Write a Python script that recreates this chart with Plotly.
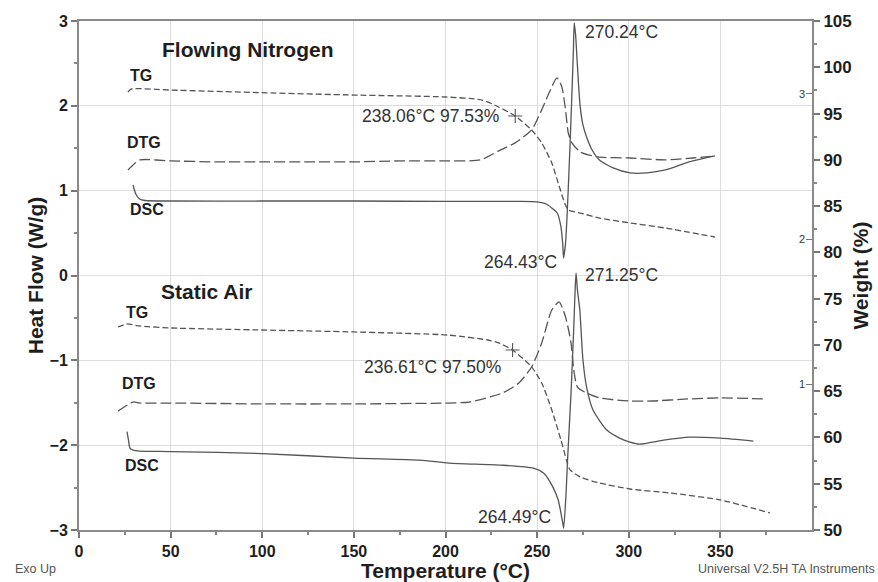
import plotly.graph_objects as go

# ---------------- data ----------------
# Flowing nitrogen
n2_dsc_t = [29.5, 31, 33, 36, 50, 100, 150, 200, 240, 250, 255, 258, 261, 263, 264, 264.43,
            265.5, 266.5, 268, 269, 269.8, 270.24, 271, 271.8, 273.4, 275, 277, 280, 284, 291.5,
            300.7, 310, 320, 333, 347]
n2_dsc_v = [1.067, 0.96, 0.902, 0.884, 0.878, 0.878, 0.878, 0.873, 0.873, 0.867, 0.843, 0.796,
            0.737, 0.572, 0.36, 0.206, 0.383, 0.772, 1.563, 2.152, 2.659, 2.978, 2.836, 2.541,
            2.011, 1.775, 1.633, 1.48, 1.362, 1.268, 1.209, 1.209, 1.244, 1.338, 1.409]

n2_tg_t = [26.7, 28.4, 50, 100, 150, 200, 220, 229, 238, 247, 252.5, 258, 262, 265, 267,
           273.5, 284, 301, 320, 347]
n2_tg_w = [97.33, 97.65, 97.54, 97.25, 97.0, 96.79, 96.46, 95.71, 94.74, 93.22, 91.82, 89.66,
           87.17, 85.33, 84.58, 84.25, 83.71, 83.17, 82.63, 81.66]

n2_dtg_t = [26.7, 29.5, 33.3, 50, 75, 100, 125, 150, 175, 200, 219, 229, 238, 247, 252.5,
            256.5, 260.8, 263.5, 265.5, 267, 269, 273.5, 283, 301, 320, 335, 347]
n2_dtg_d = [2.476, 2.510, 2.545, 2.538, 2.531, 2.531, 2.531, 2.531, 2.538, 2.538, 2.545, 2.607,
            2.662, 2.751, 2.889, 3.005, 3.109, 3.047, 2.889, 2.730, 2.662, 2.600, 2.565, 2.558,
            2.545, 2.558, 2.572]

# Static air
air_dsc_t = [26.2, 27, 27.8, 29.5, 33, 50, 100, 150, 186, 202, 230, 248, 253.5, 258.6, 261.5,
             264, 264.49, 265.8, 266.6, 268.5, 270, 270.8, 271.25, 272, 273.3, 275, 277, 280.5,
             288, 295, 300.7, 306, 319, 333, 350, 368]
air_dsc_v = [-1.84, -1.94, -2.034, -2.058, -2.07, -2.075, -2.099, -2.152, -2.176, -2.211, -2.235,
             -2.27, -2.329, -2.494, -2.647, -2.918, -2.978, -2.565, -2.176, -1.386, -0.607,
             -0.136, 0.03, -0.17, -0.407, -0.996, -1.315, -1.586, -1.822, -1.917, -1.964,
             -1.988, -1.941, -1.905, -1.917, -1.952]

air_tg_t = [21.3, 26, 33, 50, 100, 150, 201, 223, 229, 236.61, 247, 252.5, 258, 263, 266, 268,
            273.5, 284, 300.7, 322.5, 350, 377]
air_tg_w = [71.94, 72.26, 72.05, 71.83, 71.61, 71.4, 71.07, 70.53, 70.21, 69.45, 67.62, 65.89,
            62.97, 59.73, 57.57, 56.49, 55.73, 55.08, 54.43, 54.0, 53.25, 51.84]

air_dtg_t = [21.3, 29.5, 33.3, 50, 100, 150, 200, 213, 231, 240, 247, 252.5, 258, 262, 265.5,
             268.5, 270, 272, 277, 284, 300, 313, 332, 350, 375]
air_dtg_d = [0.818, 0.880, 0.873, 0.873, 0.867, 0.867, 0.873, 0.880, 0.942, 1.011, 1.121, 1.286,
             1.513, 1.568, 1.465, 1.286, 1.100, 0.983, 0.942, 0.908, 0.887, 0.887, 0.901, 0.908,
             0.901]

# marked onset points on the TG curves
onset_t = [238.06, 236.61]
onset_w = [94.74, 69.45]

x_ticks = [0, 50, 100, 150, 200, 250, 300, 350, 400]
left_ticks = [-3, -2, -1, 0, 1, 2, 3]
right_ticks = [50, 55, 60, 65, 70, 75, 80, 85, 90, 95, 100, 105]
dtg_ticks = [1, 2, 3]

# ---------------- figure ----------------
FONT = "Liberation Sans, Arial, Helvetica, sans-serif"
CURVE = "#555555"

fig = go.Figure()

def add(t, v, axis, dash, width=1.3):
    fig.add_trace(go.Scatter(x=t, y=v, yaxis=axis, mode="lines",
                             line=dict(color=CURVE, width=width, dash=dash,
                                       shape="spline", smoothing=0.6),
                             hoverinfo="skip"))

add(n2_dsc_t, n2_dsc_v, "y", "solid")
add(air_dsc_t, air_dsc_v, "y", "solid")
add(n2_tg_t, n2_tg_w, "y2", "6px,3px")
add(air_tg_t, air_tg_w, "y2", "6px,3px")
add(n2_dtg_t, n2_dtg_d, "y3", "11px,4px")
add(air_dtg_t, air_dtg_d, "y3", "11px,4px")

fig.add_trace(go.Scatter(x=onset_t, y=onset_w, yaxis="y2", mode="markers",
                         marker=dict(symbol="cross-thin", size=10,
                                     line=dict(color=CURVE, width=1.1)),
                         hoverinfo="skip"))

bold16 = dict(family=FONT, size=16, color="#1e1e1e", weight="bold")

fig.update_layout(
    width=878, height=582,
    margin=dict(l=79, r=66, t=21, b=52, autoexpand=False),
    plot_bgcolor="white", paper_bgcolor="white",
    showlegend=False,
    font=dict(family=FONT, color="#222"),
    xaxis=dict(range=[0, 400], tickvals=x_ticks, ticks="outside", ticklen=6,
               tickwidth=1.5, tickcolor="#777", showline=True, linecolor="#8a8a8a",
               linewidth=2, mirror=True, showgrid=True, gridcolor="#dcdcdc",
               gridwidth=1, zeroline=False, tickfont=bold16, automargin=False,
               minor=dict(dtick=25, ticks="outside", ticklen=3, tickcolor="#888",
                          showgrid=False),
               title=dict(text="Temperature (°C)", standoff=8,
                          font=dict(family=FONT, size=21, color="#1e1e1e", weight="bold"))),
    yaxis=dict(range=[-3, 3], tickvals=left_ticks, ticks="outside", ticklen=6,
               tickwidth=1.5, tickcolor="#777", showline=True, linecolor="#8a8a8a",
               linewidth=2, showgrid=True, gridcolor="#dcdcdc", gridwidth=1,
               zeroline=False, tickfont=bold16, automargin=False,
               minor=dict(dtick=0.5, ticks="outside", ticklen=3, tickcolor="#888",
                          showgrid=False),
               title=dict(text="Heat Flow (W/g)", standoff=0,
                          font=dict(family=FONT, size=21, color="#1e1e1e", weight="bold"))),
    yaxis2=dict(range=[50, 105], tickvals=right_ticks, overlaying="y", side="right",
                anchor="x", ticks="outside", ticklen=6, tickwidth=1.5, tickcolor="#777",
                showline=True, linecolor="#8a8a8a", linewidth=2, showgrid=False,
                zeroline=False, automargin=False,
                tickfont=dict(family=FONT, size=17, color="#1e1e1e", weight="bold"),
                minor=dict(dtick=2.5, ticks="outside", ticklen=3, tickcolor="#888"),
                title=dict(text="Weight (%)", standoff=3,
                           font=dict(family=FONT, size=21, color="#1e1e1e", weight="bold"))),
    yaxis3=dict(range=[0, 3.5], tickvals=dtg_ticks, overlaying="y", side="right",
                anchor="x", ticks="inside", ticklen=6, tickcolor="#777", automargin=False,
                ticklabelposition="inside", showline=False, showgrid=False,
                zeroline=False, tickfont=dict(family=FONT, size=11, color="#333")),
)

def note(text, x, y, size=16, bold=True, anchor="center", color="#1e1e1e"):
    fig.add_annotation(text=text, x=x, y=y, xref="x", yref="y", showarrow=False,
                       xanchor=anchor, yanchor="middle",
                       font=dict(family=FONT, size=size, color=color,
                                 weight="bold" if bold else "normal"))

note("Flowing Nitrogen", 44.2, 2.66, size=21, anchor="left")
note("Static Air", 43.7, -0.183, size=21, anchor="left")
note("TG", 33.6, 2.353)
note("DTG", 35.5, 1.568)
note("DSC", 37.1, 0.778)
note("TG", 31.7, -0.436)
note("DTG", 32.7, -1.274)
note("DSC", 34.4, -2.235)
note("238.06°C 97.53%", 191.8, 1.881, size=17.5, bold=False, color="#333")
note("270.24°C", 296.3, 2.871, size=17.5, bold=False, color="#333")
note("264.43°C", 240.7, 0.165, size=17.5, bold=False, color="#333")
note("271.25°C", 296.3, 0.006, size=17.5, bold=False, color="#333")
note("236.61°C 97.50%", 192.9, -1.073, size=17.5, bold=False, color="#333")
note("264.49°C", 237.4, -2.848, size=17.5, bold=False, color="#333")

fig.add_annotation(text="Exo Up", x=-0.09, y=-0.0766, xref="paper", yref="paper",
                   showarrow=False, xanchor="left", yanchor="middle",
                   font=dict(family=FONT, size=12.5, color="#555"))
fig.add_annotation(text="Universal V2.5H TA Instruments", x=1.0887, y=-0.0766,
                   xref="paper", yref="paper", showarrow=False, xanchor="right",
                   yanchor="middle", font=dict(family=FONT, size=12.5, color="#555"))

fig.write_html("out.html")
